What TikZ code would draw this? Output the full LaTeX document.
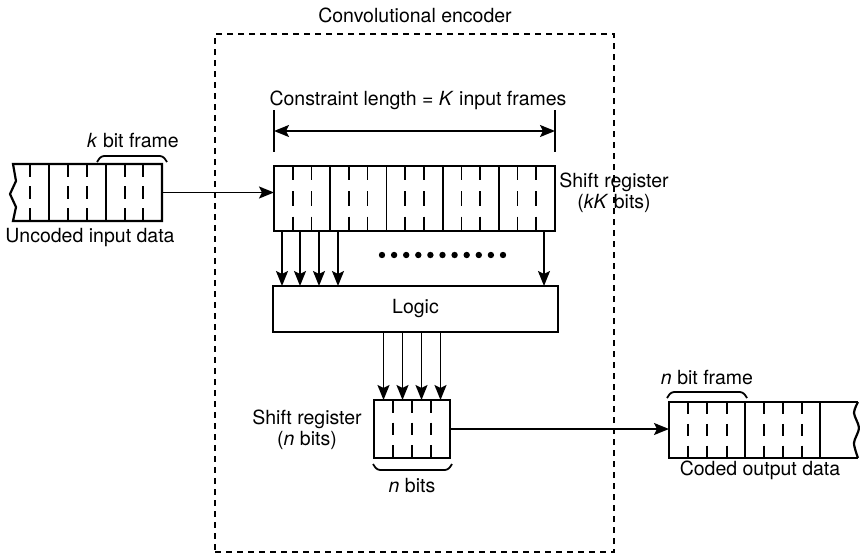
\documentclass[tikz,border=0pt]{standalone}
\usepackage{fontspec}
\setmainfont{TeX Gyre Heros}
\usetikzlibrary{arrows.meta,calc}
\newcommand\bitdash[3]{\pgfmathsetmacro\hh{#3-#2}%
 \draw[bitline] (#1,#2) -- (#1,{#2+0.22*\hh}) (#1,{#2+0.39*\hh}) -- (#1,{#2+0.61*\hh}) (#1,{#2+0.78*\hh}) -- (#1,#3);}
\begin{document}
\begin{tikzpicture}[x=1pt,y=-1pt,
  box/.style={draw, line width=2.2pt, rectangle, inner sep=0pt, outer sep=0pt},
  plainbox/.style={rectangle, inner sep=0pt, outer sep=0pt},
  outl/.style={line width=2.2pt},
  lbl/.style={font=\fontsize{19.5}{21}\selectfont, inner sep=0pt, align=center},
  arr/.style={line width=1.8pt, -{Stealth[length=15pt,width=12pt,inset=3pt]}},
  bitline/.style={line width=1.6pt},
  divline/.style={line width=1.8pt},
  brace/.style={line width=1.8pt, rounded corners=3pt}]
\useasboundingbox (0,0) rectangle (860,557);

% encoder box
\node[draw, line width=1.8pt, dash pattern=on 6pt off 5pt, plainbox,
      minimum width=399pt, minimum height=518pt] (enc) at (414.5,293) {};
\node[lbl] (title) at (415,15) {Convolutional encoder};

% input data
\node[plainbox, minimum width=149pt, minimum height=57pt] (inbox) at (87.5,192.5) {};
\draw[outl] (inbox.north west) -- (inbox.north east) -- (inbox.south east) -- (inbox.south west)
  -- ++(3,-14) -- ++(-6,-13) -- ++(6,-13) -- ++(-3,-17) -- cycle;
\draw[divline] (49,164) -- (49,221) (106,164) -- (106,221);
\foreach \x in {30,68,87,125,143} {\bitdash{\x}{164}{221}}
\draw[brace] (97,162) -- (101,156) -- (163,156) -- (167,162);
\node[lbl] (kbf) at (133,141) {\textit{k} bit frame};
\node[lbl] (uid) at (90,238) {Uncoded input data};

% shift register kK
\node[box, minimum width=281pt, minimum height=65pt] (sr) at (414.5,198.5) {};
\foreach \i in {1,...,4} {\draw[divline] ($(sr.north west)+(56.2*\i,0)$) -- ($(sr.south west)+(56.2*\i,0)$);}
\foreach \i in {0,...,4} {\foreach \j in {1,2} {\pgfmathsetmacro\xx{274+56.2*\i+18.73*\j}\bitdash{\xx}{166}{231}}}
\node[lbl] (srl) at (614,193) {Shift register\\(\textit{kK} bits)};

% constraint length
\draw[divline] ($(sr.north west)+(0,-56)$) -- ++(0,42);
\draw[divline] ($(sr.north east)+(0,-56)$) -- ++(0,42);
\draw[line width=1.8pt, {Stealth[length=15pt,width=12pt,inset=3pt]}-{Stealth[length=15pt,width=12pt,inset=3pt]}]
  ($(sr.north west)+(0,-35)$) -- ($(sr.north east)+(0,-35)$);
\node[lbl] (cl) at (418,100) {Constraint length = \textit{K} input frames};

\draw[arr] (inbox.east) -- (inbox.east -| sr.west);

% logic
\node[box, lbl, minimum width=285pt, minimum height=46pt] (logic) at (415.5,309) {Logic};
\foreach \dx in {8,26,45,64,270} {
  \path ($(sr.south west)+(\dx,0)$) coordinate (t);
  \draw[arr] (t) -- (t |- logic.north);}
\foreach \i in {0,...,10} {\fill (382+12.1*\i,255) circle (3.2pt);}

% shift register n
\node[box, minimum width=76pt, minimum height=58pt] (nreg) at (412,429) {};
\foreach \x in {393,412,431} {\bitdash{\x}{400}{458}}
\foreach \dx in {9.5,28.5,47.5,66.5} {
  \path ($(nreg.north west)+(\dx,0)$) coordinate (t);
  \draw[arr] (t |- logic.south) -- (t);}
\node[lbl] (nrl) at (307,430) {Shift register\\(\textit{n} bits)};
\draw[brace] (373,464) -- (377,470) -- (448,470) -- (452,464);
\node[lbl] (nb) at (412,486) {\textit{n} bits};

% output data
\node[plainbox, minimum width=189pt, minimum height=56pt] (outbox) at (763.5,430) {};
\draw[outl] (outbox.north east) -- (outbox.north west) -- (outbox.south west) -- (outbox.south east);
\draw[outl] plot[smooth] coordinates {(858,402) (854,413) (859,428) (854,443) (858,458)};
\draw[divline] (745,402) -- (745,458) (820,402) -- (820,458);
\foreach \x in {688,707,727,764,783,802} {\bitdash{\x}{402}{458}}
\draw[brace] (667,398) -- (671,392) -- (743,392) -- (747,398);
\node[lbl] (nbf) at (707,378) {\textit{n} bit frame};
\node[lbl] (cod) at (760,470) {Coded output data};

\draw[arr] (nreg.east) -- (nreg.east -| outbox.west);
\end{tikzpicture}
\end{document}
